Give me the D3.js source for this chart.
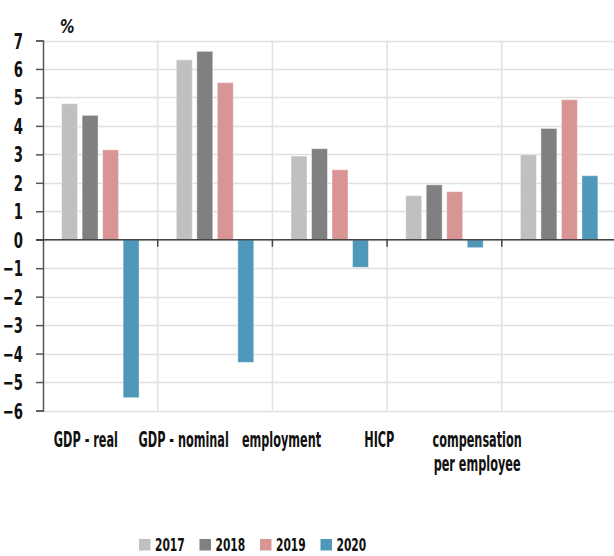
<!DOCTYPE html>
<html>
<head>
<meta charset="utf-8">
<script src="https://cdn.jsdelivr.net/npm/d3@7"></script>
<style>
  html, body { margin: 0; padding: 0; background: #fff; }
  svg { display: block; }
  text { font-family: "DejaVu Sans Condensed", "DejaVu Sans", sans-serif; font-stretch: condensed; font-weight: bold; fill: #111; }
</style>
</head>
<body>
<svg id="chart" width="614" height="556"></svg>
<script>
const categories = ["GDP - real", "GDP - nominal", "employment", "HICP", "compensation\nper employee"];
const years = ["2017", "2018", "2019", "2020"];
const v2017 = [4.78, 6.32, 2.94, 1.55, 2.99];
const v2018 = [4.37, 6.62, 3.20, 1.93, 3.91];
const v2019 = [3.16, 5.52, 2.46, 1.69, 4.92];
const v2020 = [-5.55, -4.31, -0.97, -0.28, 2.25];
const yTicks = [-6, -5, -4, -3, -2, -1, 0, 1, 2, 3, 4, 5, 6, 7];
const colors = ["#c0c0c0", "#808080", "#d99594", "#4f98b9"];

const series = [v2017, v2018, v2019, v2020];
const svg = d3.select("#chart");

// horizontally squeeze a text to mimic a narrow condensed face
function squeeze(sel, sx) {
  sel.each(function() {
    const t = d3.select(this);
    const tx = +t.attr("x") || 0, ty = +t.attr("y") || 0;
    const base = t.attr("transform") || "";
    t.attr("x", 0).attr("y", 0)
     .attr("transform", `${base} translate(${tx},${ty}) scale(${sx},1)`);
  });
}

const x = d3.scaleBand().domain(categories).range([43, 616.5]).padding(0);
const xInner = d3.scaleBand().domain(years).range([18.6, x.bandwidth() - 18.6]).paddingInner(0.22).paddingOuter(0);
const xLabel = d3.scaleBand().domain(categories).range([37, 526]);
const y = d3.scaleLinear().domain([-6, 7]).range([410.5, 40.5]);

// horizontal gridlines
svg.append("g").selectAll("line").data(yTicks).join("line")
  .attr("x1", 43).attr("x2", 614)
  .attr("y1", d => Math.round(y(d)) + 0.5).attr("y2", d => Math.round(y(d)) + 0.5)
  .attr("stroke", "#e0e0e0").attr("stroke-width", 1.5);

// vertical gridlines at category boundaries
svg.append("g").selectAll("line").data(categories.slice(1)).join("line")
  .attr("x1", d => x(d)).attr("x2", d => x(d))
  .attr("y1", y(7)).attr("y2", y(-6))
  .attr("stroke", "#e0e0e0").attr("stroke-width", 1.5);

// bars
const data = [];
categories.forEach((c, i) => years.forEach((yr, j) => data.push({c, yr, v: series[j][i], j})));
svg.append("g").selectAll("rect").data(data).join("rect")
  .attr("x", d => x(d.c) + xInner(d.yr))
  .attr("width", xInner.bandwidth())
  .attr("y", d => y(Math.max(0, d.v)))
  .attr("height", d => Math.abs(y(d.v) - y(0)))
  .attr("fill", d => colors[d.j])
  .attr("stroke", "rgba(255,255,255,0.45)")
  .attr("stroke-width", 1);

// y axis
const yAxis = d3.axisLeft(y).tickValues(yTicks).tickSize(7).tickPadding(13).tickFormat(d3.format("d"));
const gy = svg.append("g").attr("transform", "translate(43,0)").call(yAxis);
gy.select(".domain").attr("stroke", "#555").attr("stroke-width", 1.5);
gy.selectAll(".tick line").attr("stroke", "#555").attr("stroke-width", 1.5);
gy.selectAll(".tick text").style("font-size", "21px").attr("fill", "#111").attr("dy", "0.36em");
squeeze(gy.selectAll(".tick text"), 0.7);

// zero line
svg.append("line").attr("x1", 36).attr("x2", 614)
  .attr("y1", y(0)).attr("y2", y(0))
  .attr("stroke", "#444").attr("stroke-width", 1.5);

// ticks under zero line at category boundaries
svg.append("g").selectAll("line").data(categories.slice(1)).join("line")
  .attr("x1", d => x(d)).attr("x2", d => x(d))
  .attr("y1", y(0)).attr("y2", y(0) + 7)
  .attr("stroke", "#444").attr("stroke-width", 1.5);

// % label
const pct = svg.append("text").attr("x", 60).attr("y", 33)
  .style("font-size", "20px").style("font-style", "italic").text("%");
squeeze(pct, 0.8);

// category labels
const lab = svg.append("g").selectAll("text").data(categories).join("text")
  .attr("x", d => xLabel(d) + xLabel.bandwidth() / 2)
  .attr("y", 446.5)
  .attr("text-anchor", "middle")
  .style("font-size", "22px");
squeeze(lab, 0.57);
lab.selectAll("tspan").data(d => d.split("\n")).join("tspan")
  .attr("x", 0)
  .attr("dy", (d, i) => i === 0 ? 0 : 25)
  .text(d => d);

// legend
const legend = svg.append("g").selectAll("g").data(years).join("g")
  .attr("transform", (d, i) => `translate(${139 + i * 60.5},539)`);
legend.append("rect").attr("width", 11.5).attr("height", 11.5).attr("fill", (d, i) => colors[i]);
const lt = legend.append("text").attr("x", 16).attr("y", 11.5).style("font-size", "18px").text(d => d);
squeeze(lt, 0.66);
</script>
</body>
</html>
